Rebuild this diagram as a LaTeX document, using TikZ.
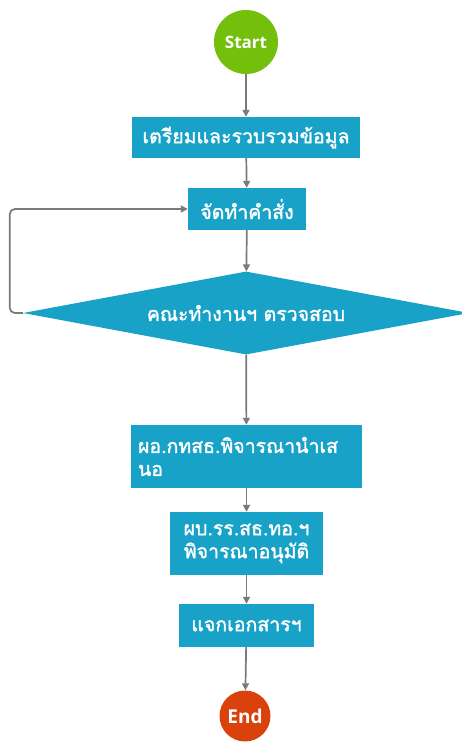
\documentclass[tikz,border=0pt]{standalone}
\usepackage{fontspec}
\setmainfont{Open Sans}
\newfontfamily\thaifont[Script=Thai, FakeBold=1.6]{Loma}
\usetikzlibrary{shapes.geometric, arrows.meta}
\definecolor{startgreen}{HTML}{74BF0C}
\definecolor{endred}{HTML}{D9420C}
\definecolor{boxteal}{HTML}{18A2C8}
\definecolor{linegray}{HTML}{7A7A7A}

\begin{document}
\begin{tikzpicture}[x = 1pt, y = -1pt,
    terminal/.style = {circle, text = white, font = \bfseries\fontsize{17}{20}\selectfont, inner sep = 0pt},
    process/.style = {rectangle, fill = boxteal, text = white, font = \thaifont\fontsize{19.5}{23}\selectfont, inner sep = 0pt},
    decision/.style = {diamond, fill = boxteal, text = white, font = \thaifont\fontsize{19.5}{23}\selectfont, inner sep = 0pt, aspect = 5.37},
    flow/.style = {draw = linegray, line width = 1.7pt, -{Triangle[length = 7pt, width = 7pt]}}]
    % Frame
    \useasboundingbox (0,0) rectangle (462,742);

    % Start and end
    \node[terminal, fill = startgreen, minimum size = 64pt] (start) at (246,42) {Start};
    \node[terminal, fill = endred, minimum size = 51pt, font = \bfseries\fontsize{19}{22}\selectfont] (stop) at (245,716) {End};

    % Steps
    \node[process, minimum width = 228pt, minimum height = 41pt] (collect) at (246,137.5) {เตรียมและรวบรวมข้อมูล};
    \node[process, minimum width = 118pt, minimum height = 42pt] (order) at (247,209) {จัดทำคำสั่ง};
    \node[decision, minimum width = 446pt, minimum height = 83pt] (check) at (246,313) {คณะทำงานฯ ตรวจสอบ};
    \node[process, minimum width = 231pt, minimum height = 63pt, text width = 217pt, align = left] (propose) at (246.5,456.5) {ผอ.กทสธ.พิจารณานำเส\\นอ};
    \node[process, minimum width = 153pt, minimum height = 63pt, align = center] (approve) at (246.5,543.5) {ผบ.รร.สธ.ทอ.ฯ\\พิจารณาอนุมัติ};
    \node[process, minimum width = 135pt, minimum height = 43pt] (hand) at (246.5,625.5) {แจกเอกสารฯ};

    % Arrows
    \draw[flow] (start) -- (collect);
    \draw[flow] (collect) -- (order);
    \draw[flow] (order) -- (check);
    \draw[flow] (check) -- (propose);
    \draw[flow] (propose) -- (approve);
    \draw[flow] (approve) -- (hand);
    \draw[flow] (hand) -- (stop);

    % Loop back
    \draw[flow, rounded corners = 5pt] (check.west) -- ++(-13,0) |- (order.west);
\end{tikzpicture}
\end{document}
